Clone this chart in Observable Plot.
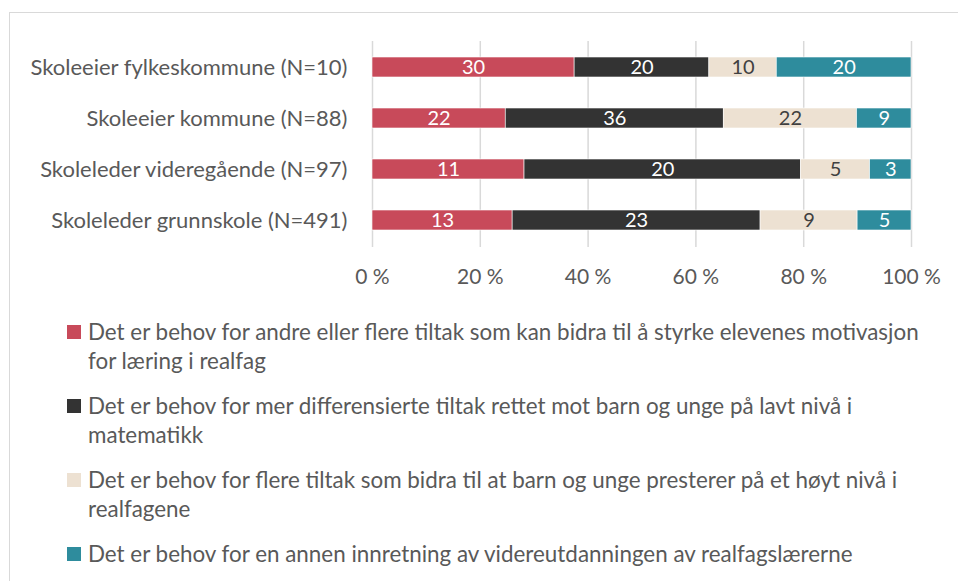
<!DOCTYPE html>
<html>
<head>
<meta charset="utf-8">
<script src="https://cdn.jsdelivr.net/npm/d3@7"></script>
<script src="https://cdn.jsdelivr.net/npm/@observablehq/plot@0.6"></script>
<style>
  html, body { margin: 0; padding: 0; background: #fff; overflow: hidden; width: 958px; height: 581px; }
  body { font-family: Lato, "Noto Sans", sans-serif; position: relative; }
  #frame { position: absolute; left: 9px; top: 12px; width: 1200px; height: 900px; border: 1.5px solid #d9d9d9; box-sizing: border-box; }
  #chart { position: absolute; left: 0; top: 0; }
  #legend { position: absolute; left: 67px; top: 317px; width: 890px; color: #595959; font-size: 22.4px; line-height: 29px; white-space: nowrap; }
  .item { display: flex; align-items: flex-start; margin-bottom: 16px; }
  .sw { width: 14px; height: 14px; flex: 0 0 14px; margin-top: 8px; margin-right: 7px; }
</style>
</head>
<body>
<div id="frame"></div>
<div id="chart"></div>
<div id="legend"></div>
<script>
const groups = [
  "Skoleeier fylkeskommune (N=10)",
  "Skoleeier kommune (N=88)",
  "Skoleleder videregående (N=97)",
  "Skoleleder grunnskole (N=491)"
];
const seriesNames = [
  "Det er behov for andre eller flere tiltak som kan bidra til å styrke elevenes motivasjon for læring i realfag",
  "Det er behov for mer differensierte tiltak rettet mot barn og unge på lavt nivå i matematikk",
  "Det er behov for flere tiltak som bidra til at barn og unge presterer på et høyt nivå i realfagene",
  "Det er behov for en annen innretning av videreutdanningen av realfagslærerne"
];
// line breaks as in the reference legend
const legendLines = [
  ["Det er behov for andre eller flere tiltak som kan bidra til å styrke elevenes motivasjon", "for læring i realfag"],
  ["Det er behov for mer differensierte tiltak rettet mot barn og unge på lavt nivå i", "matematikk"],
  ["Det er behov for flere tiltak som bidra til at barn og unge presterer på et høyt nivå i", "realfagene"],
  ["Det er behov for en annen innretning av videreutdanningen av realfagslærerne"]
];
const motivasjon = [30, 22, 11, 13];
const lavtNivaa = [20, 36, 20, 23];
const hoytNivaa = [10, 22, 5, 9];
const videreutdanning = [20, 9, 3, 5];
const xTicks = [0, 0.2, 0.4, 0.6, 0.8, 1];
const colors = ["#c84a5a", "#333333", "#ede1d2", "#2e8c9d"];
const labelColors = ["#ffffff", "#ffffff", "#404040", "#ffffff"];

const seriesValues = [motivasjon, lavtNivaa, hoytNivaa, videreutdanning];
const data = [];
groups.forEach((g, gi) => {
  seriesValues.forEach((vals, si) => {
    data.push({group: g, series: seriesNames[si], si, value: vals[gi]});
  });
});

const stackOpts = {x: "value", y: "group", z: "series", offset: "normalize", order: seriesNames};

const chart = Plot.plot({
  width: 958,
  height: 300,
  marginLeft: 372,
  marginRight: 47,
  marginTop: 41,
  marginBottom: 53,
  style: {fontFamily: "Lato, 'Noto Sans', sans-serif", fontSize: "22px", color: "#595959", background: "transparent"},
  x: {domain: [0, 1]},
  y: {domain: groups, paddingInner: 0.6, paddingOuter: 0.3},
  color: {domain: seriesNames, range: colors},
  marks: [
    Plot.gridX(xTicks, {stroke: "#d9d9d9", strokeOpacity: 1, strokeWidth: 1.5}),
    Plot.barX(data, Plot.stackX({...stackOpts, fill: "series", stroke: "#ffffff", strokeWidth: 0.6})),
    Plot.text(data, Plot.stackX({...stackOpts, text: "value", fill: d => labelColors[d.si], fontSize: 20})),
    Plot.axisX(xTicks, {tickSize: 0, tickPadding: 22, tickFormat: d => Math.round(d * 100) + " %", label: null, fontSize: 21}),
    Plot.axisY({tickSize: 0, tickPadding: 25, label: null, fontSize: 22})
  ]
});
document.getElementById("chart").appendChild(chart);

const legend = document.getElementById("legend");
legendLines.forEach((lines, i) => {
  const item = document.createElement("div");
  item.className = "item";
  const sw = document.createElement("div");
  sw.className = "sw";
  sw.style.background = colors[i];
  const txt = document.createElement("div");
  lines.forEach((l, li) => {
    if (li > 0) txt.appendChild(document.createElement("br"));
    txt.appendChild(document.createTextNode(l));
  });
  item.appendChild(sw);
  item.appendChild(txt);
  legend.appendChild(item);
});
</script>
</body>
</html>
